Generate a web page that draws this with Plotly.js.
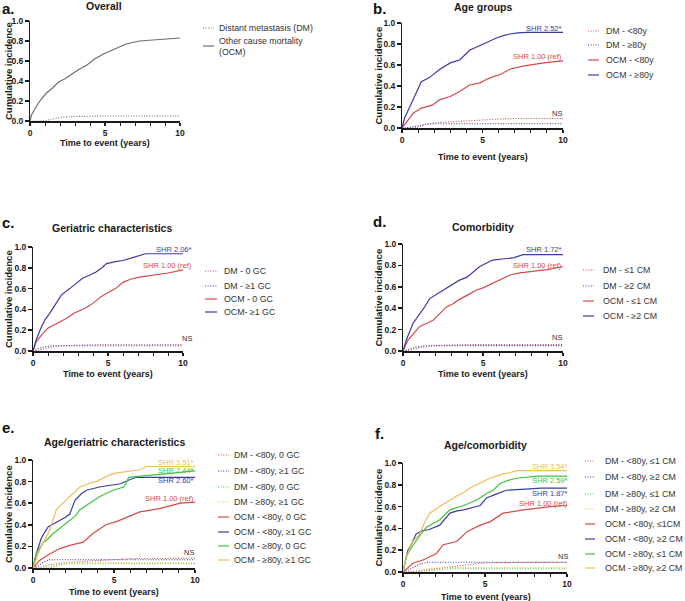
<!DOCTYPE html>
<html><head><meta charset="utf-8">
<script src="https://cdn.plot.ly/plotly-3.0.1.min.js"></script>
<style>html,body{margin:0;padding:0;background:#fff}#chart{width:685px;height:601px}</style>
</head><body><div id="chart"></div>
<script>
// ---------- DATA ----------
// Panel a
const a_t_ocm = [0,0.1,0.4,0.7,1.1,1.5,1.9,2.3,2.7,3.2,3.8,4.3,4.9,5.6,6.4,7.3,8.4,9.2,10];
const a_ci_ocm = [0,0.06,0.14,0.21,0.28,0.33,0.39,0.42,0.46,0.51,0.56,0.62,0.67,0.72,0.77,0.80,0.81,0.82,0.83];
const a_t_dm = [0,0.9,1.2,1.5,1.8,2.2,3,4,5,10];
const a_ci_dm = [0,0,0.01,0.02,0.03,0.04,0.045,0.048,0.05,0.05];
// Panel b
const b_t_dm_lt80 = [0,0.8,1.2,1.6,2,3,4,5,6,7,10];
const b_ci_dm_lt80 = [0,0,0.02,0.04,0.05,0.06,0.07,0.08,0.085,0.09,0.09];
const b_t_dm_ge80 = [0,0.5,1,1.5,2,10];
const b_ci_dm_ge80 = [0,0.005,0.02,0.035,0.04,0.04];
const b_t_ocm_lt80 = [0,0.17,0.4,0.69,1.2,1.9,2.35,3,3.6,4.2,4.85,5.2,5.5,6.1,6.7,7.5,8.8,10];
const b_ci_ocm_lt80 = [0,0.03,0.08,0.14,0.19,0.22,0.27,0.30,0.35,0.41,0.43,0.46,0.48,0.51,0.56,0.59,0.62,0.64];
const b_t_ocm_ge80 = [0,0.17,0.45,0.69,0.95,1.2,1.7,2.35,3,3.6,4.2,4.6,5.05,5.5,5.9,6.3,6.7,7.2,7.75,10];
const b_ci_ocm_ge80 = [0,0.10,0.19,0.27,0.36,0.44,0.48,0.56,0.62,0.65,0.74,0.77,0.80,0.83,0.86,0.88,0.895,0.905,0.91,0.91];
// Panel c
const c_t_dm_0 = [0,0.5,1,1.5,2,3,4,10];
const c_ci_dm_0 = [0,0.01,0.03,0.045,0.05,0.055,0.06,0.06];
const c_t_dm_1 = [0,0.3,0.8,1.2,2,10];
const c_ci_dm_1 = [0,0.02,0.04,0.05,0.05,0.05];
const c_t_ocm_0 = [0,0.22,0.6,1.0,1.4,1.8,2.3,2.7,3.2,3.6,4.1,4.5,5.1,5.5,6,6.5,7.1,8.2,9,10];
const c_ci_ocm_0 = [0,0.09,0.16,0.22,0.25,0.28,0.32,0.36,0.39,0.42,0.47,0.52,0.57,0.60,0.66,0.69,0.71,0.73,0.75,0.78];
const c_t_ocm_1 = [0,0.22,0.56,0.8,1.1,1.5,1.9,2.45,2.9,3.3,3.8,4.2,4.6,4.9,5.5,6,6.7,7.1,7.5,10];
const c_ci_ocm_1 = [0,0.11,0.23,0.30,0.36,0.45,0.54,0.60,0.65,0.70,0.73,0.76,0.80,0.84,0.86,0.87,0.90,0.92,0.935,0.935];
// Panel d
const d_t_dm_1 = [0,0.5,1,1.5,2,3,4,10];
const d_ci_dm_1 = [0,0.01,0.03,0.045,0.05,0.055,0.06,0.06];
const d_t_dm_2 = [0,0.4,0.8,1.2,2,10];
const d_ci_dm_2 = [0,0.02,0.035,0.045,0.05,0.05];
const d_t_ocm_1 = [0,0.3,0.7,1.04,1.5,1.9,2.3,2.7,3.1,3.5,4,4.6,5,5.4,6,6.7,7.3,8,9,10];
const d_ci_ocm_1 = [0,0.10,0.17,0.23,0.26,0.29,0.35,0.41,0.44,0.48,0.52,0.57,0.59,0.62,0.66,0.71,0.73,0.74,0.76,0.79];
const d_t_ocm_2 = [0,0.2,0.63,1.04,1.3,1.67,2.1,2.5,3.1,3.5,4,4.4,4.8,5.2,5.6,6.2,6.9,7.5,10];
const d_ci_ocm_2 = [0,0.10,0.26,0.34,0.40,0.49,0.53,0.57,0.63,0.66,0.69,0.74,0.79,0.82,0.85,0.86,0.87,0.90,0.90];
// Panel e
const e_t_dm_lt80_0 = [0,0.5,1,2,3,4,5,6,10];
const e_ci_dm_lt80_0 = [0,0.01,0.03,0.05,0.06,0.07,0.08,0.087,0.09];
const e_t_dm_lt80_1 = [0,0.3,0.6,1,10];
const e_ci_dm_lt80_1 = [0,0.02,0.05,0.077,0.077];
const e_t_dm_ge80_0 = [0,1,1.5,2,10];
const e_ci_dm_ge80_0 = [0,0,0.02,0.04,0.04];
const e_t_dm_ge80_1 = [0,1,1.5,2,10];
const e_ci_dm_ge80_1 = [0,0.01,0.03,0.05,0.05];
const e_t_ocm_lt80_0 = [0,0.4,1.03,1.65,2.27,3.1,3.7,4.1,4.5,5.15,5.8,6.6,7.8,9.1,10];
const e_ci_ocm_lt80_0 = [0,0.07,0.13,0.18,0.21,0.24,0.32,0.36,0.40,0.43,0.47,0.52,0.55,0.60,0.61];
const e_t_ocm_lt80_1 = [0,0.2,0.5,0.6,0.93,1.3,1.65,2.0,2.27,2.6,3.0,3.3,4.1,5.4,6.0,6.4,10];
const e_ci_ocm_lt80_1 = [0,0.13,0.27,0.30,0.38,0.41,0.44,0.47,0.50,0.63,0.69,0.72,0.75,0.78,0.82,0.84,0.84];
const e_t_ocm_ge80_0 = [0,0.2,0.6,1.0,1.24,1.75,2.27,2.6,2.9,3.5,4.1,4.5,4.95,5.6,5.8,5.9,7.4,8.5,10];
const e_ci_ocm_ge80_0 = [0,0.13,0.23,0.28,0.32,0.38,0.44,0.48,0.54,0.60,0.66,0.69,0.72,0.75,0.80,0.84,0.86,0.88,0.90];
const e_t_ocm_ge80_1 = [0,0.1,0.5,1.03,1.44,1.7,2.06,2.5,2.9,3.4,3.9,4.3,4.7,5.2,5.8,6.6,7,10];
const e_ci_ocm_ge80_1 = [0,0.04,0.20,0.35,0.54,0.58,0.63,0.70,0.75,0.78,0.80,0.83,0.86,0.88,0.89,0.91,0.94,0.94];
// Panel f
const f_t_dm_lt80_1 = [0,1,2,3,4,5,10];
const f_ci_dm_lt80_1 = [0,0.01,0.03,0.05,0.07,0.085,0.09];
const f_t_dm_lt80_2 = [0,0.5,1,1.5,10];
const f_ci_dm_lt80_2 = [0,0.03,0.07,0.09,0.09];
const f_t_dm_ge80_1 = [0,1,2,3,10];
const f_ci_dm_ge80_1 = [0,0.005,0.02,0.03,0.03];
const f_t_dm_ge80_2 = [0,1,1.5,2.5,10];
const f_ci_dm_ge80_2 = [0,0.01,0.03,0.04,0.04];
const f_t_ocm_lt80_1 = [0,0.3,0.6,1.22,2.04,2.45,3.27,3.9,4.7,5.3,6.1,7.35,9,10];
const f_ci_ocm_lt80_1 = [0,0.04,0.08,0.11,0.17,0.25,0.28,0.37,0.43,0.46,0.54,0.57,0.60,0.61];
const f_t_ocm_lt80_2 = [0,0.3,0.5,0.8,1.2,1.6,2.24,2.86,3.3,3.7,4.7,5.1,5.6,6.3,7.5,8.4,10];
const f_ci_ocm_lt80_2 = [0,0.20,0.25,0.35,0.38,0.39,0.43,0.54,0.56,0.57,0.61,0.68,0.71,0.75,0.76,0.77,0.77];
const f_t_ocm_ge80_1 = [0,0.2,0.5,0.8,1.1,1.43,2.24,2.86,3.3,3.7,4.5,5.1,5.5,5.9,6.4,6.9,8.2,10];
const f_ci_ocm_ge80_1 = [0,0.14,0.22,0.29,0.35,0.41,0.48,0.57,0.59,0.61,0.66,0.72,0.75,0.81,0.84,0.86,0.88,0.88];
const f_t_ocm_ge80_2 = [0,0.1,0.5,1.02,1.3,1.63,2.24,2.86,3.3,3.7,4.1,4.5,4.9,5.3,5.7,6.1,6.5,6.9,10];
const f_ci_ocm_ge80_2 = [0,0.08,0.26,0.35,0.45,0.54,0.60,0.66,0.70,0.73,0.77,0.80,0.83,0.86,0.88,0.90,0.91,0.93,0.93];

// Legend labels and SHR texts
const a_labels = ['Distant metastasis (DM)', 'Other cause mortality<br>(OCM)'];
const b_labels = ['DM - &lt;80y', 'DM - ≥80y', 'OCM - &lt;80y', 'OCM - ≥80y'];
const c_labels = ['DM - 0 GC', 'DM - ≥1 GC', 'OCM - 0 GC', 'OCM- ≥1 GC'];
const d_labels = ['DM - ≤1 CM', 'DM - ≥2 CM', 'OCM - ≤1 CM', 'OCM - ≥2 CM'];
const e_labels = ['DM - &lt;80y, 0 GC', 'DM - &lt;80y, ≥1 GC', 'DM - &lt;80y, 0 GC', 'DM - ≥80y, ≥1 GC',
                  'OCM - &lt;80y, 0 GC', 'OCM - &lt;80y, ≥1 GC', 'OCM - ≥80y, 0 GC', 'OCM - ≥80y, ≥1 GC'];
const f_labels = ['DM - &lt;80y, ≤1 CM', 'DM - &lt;80y, ≥2 CM', 'DM - ≥80y, ≤1 CM', 'DM - ≥80y, ≥2 CM',
                  'OCM - &lt;80y, ≤1CM', 'OCM - &lt;80y, ≥2 CM', 'OCM - ≥80y, ≤1 CM', 'OCM - ≥80y, ≥2 CM'];
const b_shr = ['SHR 2.52*', 'SHR 1.00 (ref)', 'NS'];
const b_shr_y = [0.95, 0.68, 0.14];
const c_shr = ['SHR 2.06*', 'SHR 1.00 (ref)', 'NS'];
const c_shr_y = [0.98, 0.82, 0.12];
const d_shr = ['SHR 1.72*', 'SHR 1.00 (ref)', 'NS'];
const d_shr_y = [0.95, 0.80, 0.13];
const e_shr = ['SHR 3.51*', 'SHR 2.44*', 'SHR 2.60*', 'SHR 1.00 (ref)', 'NS'];
const e_shr_y = [0.975, 0.905, 0.81, 0.64, 0.14];
const f_shr = ['SHR 3.54*', 'SHR 2.59*', 'SHR 1.87*', 'SHR 1.00 (ref)', 'NS'];
const f_shr_y = [0.97, 0.84, 0.72, 0.63, 0.14];

// ---------- STYLE / LAYOUT ----------
const W = 685, H = 601;
const F = 'Liberation Sans, Arial, sans-serif';
const RED = '#d24a4a', BLUE = '#3c3ca0', GREEN = '#3cc43c', ORANGE = '#f0bc5a', GRAY = '#6e6e6e', DARK = '#1a1a1a';
const DOT = '1px,1.6px';
const px = x => x / W, py = y => 1 - y / H;

// panel geometry in pixels: [x0, x1, yTop, yBottom]
const P = {
  a: [30, 180, 21, 121], b: [402, 563, 23, 128],
  c: [33, 183, 247, 351], d: [403, 563, 244, 351],
  e: [33, 195, 460, 568], f: [403, 567, 463, 572]
};
const keys = ['a','b','c','d','e','f'];
const titles = ['Overall','Age groups','Geriatric characteristics','Comorbidity','Age/geriatric characteristics','Age/comorbidity'];
const letterPos = {a: [0, 9], b: [371, 9], c: [0, 222], d: [371, 221], e: [0, 427], f: [373, 433]};
const titlePos = {a: [104, 6], b: [483, 7], c: [112, 228], d: [483, 227], e: [114, 442], f: [486, 445]};
const xTitlePos = {a: [105, 143], b: [483, 157], c: [108, 374], d: [483, 374], e: [114, 592], f: [486, 597]};
const shrShift = {b: 1, c: 11, d: 1, e: 1, f: 3};

const traces = [];
function add(k, t, ci, color, dotted) {
  const i = keys.indexOf(k) + 1, s = i > 1 ? i : '';
  traces.push({x: t, y: ci, type: 'scatter', mode: 'lines', xaxis: 'x' + s, yaxis: 'y' + s,
    line: {color: color, width: dotted ? 1.1 : 1.2, dash: dotted ? DOT : 'solid', shape: 'linear'},
    showlegend: false, hoverinfo: 'skip', cliponaxis: false});
}
add('a', a_t_dm, a_ci_dm, GRAY, true);
add('a', a_t_ocm, a_ci_ocm, GRAY, false);
add('b', b_t_dm_lt80, b_ci_dm_lt80, RED, true);
add('b', b_t_dm_ge80, b_ci_dm_ge80, BLUE, true);
add('b', b_t_ocm_lt80, b_ci_ocm_lt80, RED, false);
add('b', b_t_ocm_ge80, b_ci_ocm_ge80, BLUE, false);
add('c', c_t_dm_0, c_ci_dm_0, RED, true);
add('c', c_t_dm_1, c_ci_dm_1, BLUE, true);
add('c', c_t_ocm_0, c_ci_ocm_0, RED, false);
add('c', c_t_ocm_1, c_ci_ocm_1, BLUE, false);
add('d', d_t_dm_1, d_ci_dm_1, RED, true);
add('d', d_t_dm_2, d_ci_dm_2, BLUE, true);
add('d', d_t_ocm_1, d_ci_ocm_1, RED, false);
add('d', d_t_ocm_2, d_ci_ocm_2, BLUE, false);
add('e', e_t_dm_lt80_0, e_ci_dm_lt80_0, RED, true);
add('e', e_t_dm_lt80_1, e_ci_dm_lt80_1, BLUE, true);
add('e', e_t_dm_ge80_0, e_ci_dm_ge80_0, GREEN, true);
add('e', e_t_dm_ge80_1, e_ci_dm_ge80_1, ORANGE, true);
add('e', e_t_ocm_lt80_0, e_ci_ocm_lt80_0, RED, false);
add('e', e_t_ocm_lt80_1, e_ci_ocm_lt80_1, BLUE, false);
add('e', e_t_ocm_ge80_0, e_ci_ocm_ge80_0, GREEN, false);
add('e', e_t_ocm_ge80_1, e_ci_ocm_ge80_1, ORANGE, false);
add('f', f_t_dm_lt80_1, f_ci_dm_lt80_1, RED, true);
add('f', f_t_dm_lt80_2, f_ci_dm_lt80_2, BLUE, true);
add('f', f_t_dm_ge80_1, f_ci_dm_ge80_1, GREEN, true);
add('f', f_t_dm_ge80_2, f_ci_dm_ge80_2, ORANGE, true);
add('f', f_t_ocm_lt80_1, f_ci_ocm_lt80_1, RED, false);
add('f', f_t_ocm_lt80_2, f_ci_ocm_lt80_2, BLUE, false);
add('f', f_t_ocm_ge80_1, f_ci_ocm_ge80_1, GREEN, false);
add('f', f_t_ocm_ge80_2, f_ci_ocm_ge80_2, ORANGE, false);

const tickFont = {family: F, size: 8.5, weight: 'bold', color: DARK};
const layout = {width: W, height: H, margin: {l: 0, r: 0, t: 0, b: 0}, paper_bgcolor: '#fff', plot_bgcolor: 'rgba(0,0,0,0)',
  showlegend: false, annotations: [], shapes: [], font: {family: F}};

keys.forEach((k, idx) => {
  const i = idx + 1, s = i > 1 ? i : '';
  const [x0, x1, yT, yB] = P[k];
  layout['xaxis' + s] = {domain: [px(x0), px(x1)], range: [0, 10], anchor: 'y' + s, showline: true, linewidth: 1.5, linecolor: DARK,
    ticks: 'outside', ticklen: 3.5, tickwidth: 1.5, tickcolor: DARK, tickvals: [0, 5, 10], ticktext: ['0','5','10'], showgrid: false, zeroline: false,
    tickfont: tickFont, minor: {tickvals: [1,2,3,4,6,7,8,9], ticks: 'outside', ticklen: 3, tickwidth: 1, tickcolor: DARK, showgrid: false},
    fixedrange: true};
  layout['yaxis' + s] = {domain: [py(yB), py(yT)], range: [0, 1], anchor: 'x' + s, showline: true, linewidth: 1.5, linecolor: DARK,
    ticks: 'outside', ticklen: 3.5, tickwidth: 1.5, tickcolor: DARK, tickvals: [0,0.2,0.4,0.6,0.8,1.0], tickformat: '.1f',
    showgrid: false, zeroline: false, tickfont: tickFont, fixedrange: true};
  layout.annotations.push({xref: 'paper', yref: 'paper', x: px(titlePos[k][0]), y: py(titlePos[k][1]),
    text: titles[idx], showarrow: false, xanchor: 'center', yanchor: 'middle', font: {family: F, size: 10.5, weight: 'bold', color: DARK}});
  layout.annotations.push({xref: 'paper', yref: 'paper', x: px(letterPos[k][0]), y: py(letterPos[k][1]), text: k + '.', showarrow: false,
    xanchor: 'left', yanchor: 'middle', font: {family: F, size: 15, weight: 'bold', color: '#111'}});
  layout.annotations.push({xref: 'paper', yref: 'paper', x: px(xTitlePos[k][0]), y: py(xTitlePos[k][1]), text: 'Time to event (years)', showarrow: false,
    xanchor: 'center', yanchor: 'middle', font: {family: F, size: 9, weight: 'bold', color: DARK}});
  layout.annotations.push({xref: 'paper', yref: 'paper', x: px(x0 < 200 ? 8 : 378), y: py((yT + yB) / 2), text: 'Cumulative incidence', showarrow: false,
    textangle: -90, xanchor: 'center', yanchor: 'middle', font: {family: F, size: 9.5, weight: 'bold', color: DARK}});
});

// SHR labels (anchored to each panel's axes at the right end, x = 10)
function shr(k, texts, ys, colors) {
  const i = keys.indexOf(k) + 1, s = i > 1 ? i : '';
  texts.forEach((t, j) => layout.annotations.push({xref: 'x' + s, yref: 'y' + s, x: 10, y: ys[j], text: t, showarrow: false,
    xanchor: 'right', xshift: shrShift[k], yanchor: 'middle', font: {family: F, size: 7.5, color: colors[j]}}));
}
shr('b', b_shr, b_shr_y, [BLUE, RED, '#333']);
shr('c', c_shr, c_shr_y, [BLUE, RED, '#333']);
shr('d', d_shr, d_shr_y, [BLUE, RED, '#333']);
shr('e', e_shr, e_shr_y, [ORANGE, GREEN, BLUE, RED, '#333']);
shr('f', f_shr, f_shr_y, [ORANGE, GREEN, BLUE, RED, '#333']);

// Legends (manual)
function legend(labels, colors, dotted, lx0, lx1, tx, rows, lineRows) {
  labels.forEach((t, j) => {
    const ly = lineRows ? lineRows[j] : rows[j];
    layout.shapes.push({type: 'line', xref: 'paper', yref: 'paper', x0: px(lx0), x1: px(lx1), y0: py(ly), y1: py(ly),
      line: {color: colors[j], width: dotted[j] ? 1 : 1.2, dash: dotted[j] ? DOT : 'solid'}});
    layout.annotations.push({xref: 'paper', yref: 'paper', x: px(tx), y: py(rows[j]), text: t, showarrow: false, xanchor: 'left', yanchor: 'middle',
      align: 'left', font: {family: F, size: 8.8, color: '#333'}});
  });
}
const dot4 = [true, true, false, false];
const dot8 = [true, true, true, true, false, false, false, false];
legend(a_labels, [GRAY, GRAY], [true, false], 203, 214, 217, [28, 46], [28, 46]);
legend(b_labels, [RED, BLUE, RED, BLUE], dot4, 588, 599, 604, [31, 45, 60, 75]);
legend(c_labels, [RED, BLUE, RED, BLUE], dot4, 205, 217, 222, [271, 286, 299, 312]);
legend(d_labels, [RED, BLUE, RED, BLUE], dot4, 583, 594, 601, [270, 286, 301, 316]);
legend(e_labels, [RED, BLUE, GREEN, ORANGE, RED, BLUE, GREEN, ORANGE], dot8, 218, 229, 232, [455, 471, 487, 502, 517, 532, 546, 560]);
legend(f_labels, [RED, BLUE, GREEN, ORANGE, RED, BLUE, GREEN, ORANGE], dot8, 585, 595, 603, [461, 477, 494, 509, 524, 539, 554, 568]);

Plotly.newPlot('chart', traces, layout, {staticPlot: true, displayModeBar: false});
</script>
</body></html>
